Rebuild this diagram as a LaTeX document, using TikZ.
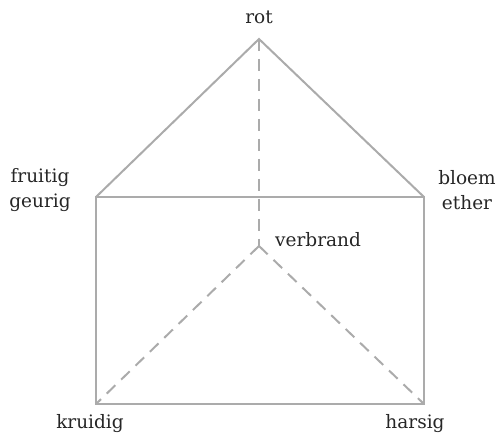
\documentclass[tikz,border=0pt]{standalone}
\usepackage{fontspec}
\setmainfont{DejaVu Serif}
\begin{document}
\begin{tikzpicture}[x=1pt,y=-1pt,
  edge/.style={draw=black!33,line width=2pt,line join=miter},
  hidden/.style={edge,dash pattern=on 12pt off 8pt},
  lbl/.style={font=\fontsize{18.5}{25}\selectfont,text=black!85,inner sep=0pt,align=center}]
\useasboundingbox (0,0) rectangle (499,436);
% corners of the prism
\coordinate (top) at (259,39);
\coordinate (fl) at (96,197);
\coordinate (fr) at (424,197);
\coordinate (bl) at (96,404);
\coordinate (br) at (424,404);
\coordinate (c) at (259,246);
% visible edges
\draw[edge] (fl) -- (top) -- (fr);
\draw[edge] (fl) -- (fr) -- (br) -- (bl) -- cycle;
% hidden edges
\draw[hidden] (top) -- (c);
\draw[hidden] (c) -- (bl);
\draw[hidden] (c) -- (br);
% labels
\node[lbl] (lrot) at (259,17) {rot};
\node[lbl] (lfr) at (40,190) {fruitig\\geurig};
\node[lbl] (lbe) at (467,190) {bloem\\ether};
\node[lbl,anchor=west] (lverb) at (275,240) {verbrand};
\node[lbl] (lkr) at (90,424) {kruidig};
\node[lbl] (lha) at (415,424) {harsig};
\end{tikzpicture}
\end{document}
